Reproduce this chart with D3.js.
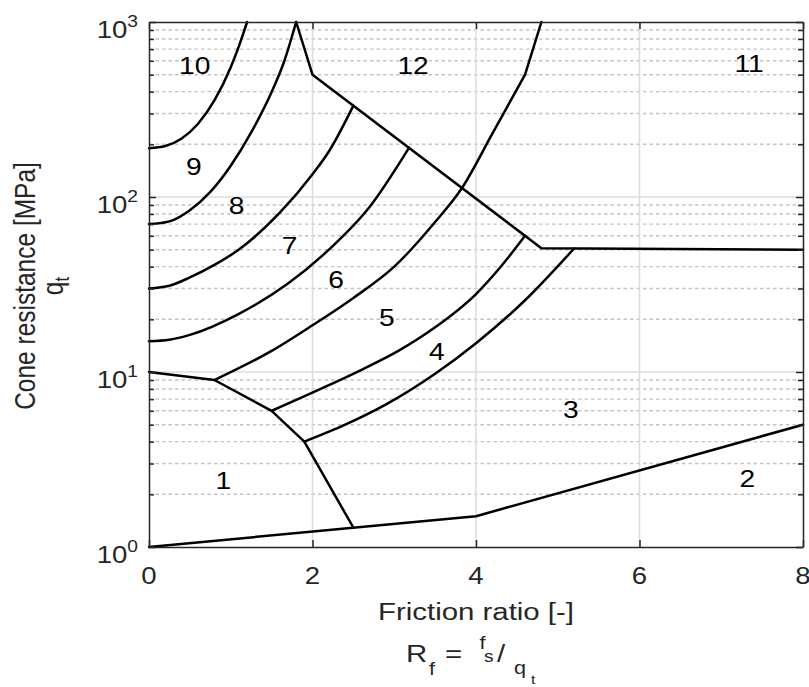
<!DOCTYPE html>
<html>
<head>
<meta charset="utf-8">
<script src="https://cdn.jsdelivr.net/npm/d3@7"></script>
<style>
  body { margin: 0; background: #fff; }
  svg { display: block; }
  text { font-family: "Liberation Sans", Arial, Helvetica, sans-serif; }
</style>
</head>
<body>
<svg id="chart" width="809" height="687"></svg>
<script>
// ---- Axis ticks ----
const rfTicks = [0, 2, 4, 6, 8];
const qtTicks = [1, 10, 100, 1000];
const qtTickExponents = ["0", "1", "2", "3"];

// ---- Zone boundaries, points given as [Rf (%), qt (MPa)] ----
const zone2Boundary = [[0, 1], [4, 1.5], [8, 5]];
const zone1Boundary = [[0, 10], [0.8, 9], [1.5, 6], [1.9, 4], [2.5, 1.29]];
const upperBoundary = [[1.8, 1000], [2, 500], [4.8, 51], [8, 50]];
const boundary11to12Top = [[4.6, 500], [4.8, 1000]];

const curve10to9 = [[0, 190], [0.2, 195.7], [0.4, 216], [0.6, 262], [0.8, 356], [1.0, 552], [1.1, 728], [1.2, 1000]];
const curve9to8 = [[0, 70], [0.25, 72.6], [0.5, 84.1], [0.75, 107], [1.0, 151], [1.25, 234], [1.5, 398], [1.65, 589], [1.8, 1000]];
const curve8to7 = [[0, 30], [0.25, 31.1], [0.5, 34.7], [0.8, 40.9], [1.1, 50.1], [1.6, 81.3], [2.0, 134.9], [2.2, 182], [2.5, 333]];
const curve7to6 = [[0, 15], [0.25, 15.3], [0.5, 16.3], [1.1, 21.5], [1.7, 32], [2.2, 50], [2.7, 88], [3.18, 191]];
const curve6to5 = [[0.8, 9], [1.5, 13.2], [2.0, 18.5], [2.5, 26.5], [3.0, 40], [3.5, 72], [3.82, 111], [4.2, 230], [4.6, 500]];
const curve5to4 = [[1.5, 6], [2.2, 8.41], [2.6, 10.3], [3.05, 13.2], [3.5, 18.0], [4.0, 27.9], [4.3, 39.8], [4.6, 60]];
const curve4to3 = [[1.9, 4], [2.4, 5.0], [2.9, 6.53], [3.5, 9.77], [4.0, 14.6], [4.6, 25.7], [5.2, 50.8]];

// ---- Zone numbers ----
const zoneLabels = ["1", "2", "3", "4", "5", "6", "7", "8", "9", "10", "11", "12"];
const zoneLabelRf = [0.91, 7.32, 5.16, 3.52, 2.91, 2.29, 1.72, 1.07, 0.55, 0.56, 7.34, 3.23];
const zoneLabelQt = [2.41, 2.45, 6.07, 13.1, 20.5, 33.6, 53, 89, 149, 561, 577, 565];

// ---- Layout ----
const plot = { left: 149, right: 803, top: 22, bottom: 547 };
const axisColor = "#262626";
const sx = 1.2;              // horizontal glyph stretch
const tickFont = 23;
const labelFont = 24.5;

const svg = d3.select("#chart");

const x = d3.scaleLinear().domain([0, 8]).range([plot.left, plot.right]);
const y = d3.scaleLog().domain([1, 1000]).range([plot.bottom, plot.top]);

// minor decade values 2..9 for each decade
const minorQt = [];
[1, 10, 100].forEach(d => { for (let m = 2; m <= 9; m++) minorQt.push(d * m); });

// ---- Grid ----
const grid = svg.append("g");
grid.selectAll(".minor").data(minorQt).join("line")
  .attr("x1", plot.left).attr("x2", plot.right)
  .attr("y1", d => y(d)).attr("y2", d => y(d))
  .attr("stroke", "#c4c4c4").attr("stroke-width", 1.4)
  .attr("stroke-dasharray", "3.5,3");
grid.selectAll(".majx").data(rfTicks.slice(1, -1)).join("line")
  .attr("x1", d => x(d)).attr("x2", d => x(d))
  .attr("y1", plot.top).attr("y2", plot.bottom)
  .attr("stroke", "#dcdcdc").attr("stroke-width", 1.5);
grid.selectAll(".majy").data(qtTicks.slice(1, -1)).join("line")
  .attr("x1", plot.left).attr("x2", plot.right)
  .attr("y1", d => y(d)).attr("y2", d => y(d))
  .attr("stroke", "#dcdcdc").attr("stroke-width", 1.5);

// ---- Zone boundaries ----
const lineStraight = d3.line().x(d => x(d[0])).y(d => y(d[1]));
const lineSmooth = d3.line().x(d => x(d[0])).y(d => y(d[1])).curve(d3.curveMonotoneX);

const straightSets = [zone2Boundary, zone1Boundary, upperBoundary, boundary11to12Top];
const curvedSets = [curve10to9, curve9to8, curve8to7, curve7to6, curve6to5, curve5to4, curve4to3];

const lines = svg.append("g").attr("fill", "none").attr("stroke", "#000")
  .attr("stroke-width", 2.5).attr("stroke-linejoin", "round").attr("stroke-linecap", "round");
lines.selectAll(".s").data(straightSets).join("path").attr("d", lineStraight);
lines.selectAll(".c").data(curvedSets).join("path").attr("d", lineSmooth);

// ---- Axes ----
function styleAxis(g) {
  g.selectAll("path.domain").attr("stroke", axisColor).attr("stroke-width", 1.5);
  g.selectAll(".tick line").attr("stroke", axisColor).attr("stroke-width", 1.5);
  g.selectAll(".tick text").remove();
}
const tickLen = 7, minorLen = 5;

svg.append("g").attr("transform", `translate(0,${plot.bottom})`)
  .call(d3.axisBottom(x).tickValues(rfTicks).tickSize(-tickLen).tickSizeOuter(0))
  .call(styleAxis);
svg.append("g").attr("transform", `translate(0,${plot.top})`)
  .call(d3.axisTop(x).tickValues(rfTicks).tickSize(-tickLen).tickSizeOuter(0))
  .call(styleAxis);
svg.append("g").attr("transform", `translate(${plot.left},0)`)
  .call(d3.axisLeft(y).tickValues(qtTicks).tickSize(-tickLen).tickSizeOuter(0))
  .call(styleAxis);
svg.append("g").attr("transform", `translate(${plot.right},0)`)
  .call(d3.axisRight(y).tickValues(qtTicks).tickSize(-tickLen).tickSizeOuter(0))
  .call(styleAxis);
svg.append("g").attr("transform", `translate(${plot.left},0)`)
  .call(d3.axisLeft(y).tickValues(minorQt).tickSize(-minorLen).tickSizeOuter(0))
  .call(styleAxis).select("path.domain").remove();
svg.append("g").attr("transform", `translate(${plot.right},0)`)
  .call(d3.axisRight(y).tickValues(minorQt).tickSize(-minorLen).tickSizeOuter(0))
  .call(styleAxis).select("path.domain").remove();

// ---- Text helper: horizontally stretched glyphs ----
function stretched(px, py, rotate) {
  return svg.append("g")
    .attr("transform", `translate(${px},${py}) scale(${sx},1)` + (rotate ? ` rotate(${rotate})` : ""));
}

// x tick labels
rfTicks.forEach(v => {
  stretched(x(v), plot.bottom + 36.5).append("text")
    .attr("text-anchor", "middle").attr("font-size", tickFont).attr("fill", axisColor)
    .text(String(v));
});

// y tick labels: 10 with exponent
qtTicks.forEach((v, i) => {
  const t = stretched(plot.left - 11, y(v)).append("text")
    .attr("text-anchor", "end").attr("fill", axisColor);
  t.append("tspan").attr("font-size", tickFont).attr("dy", 15.5).text("10");
  t.append("tspan").attr("font-size", 16).attr("dy", -11).text(qtTickExponents[i]);
});

// x label, first line
stretched((plot.left + plot.right) / 2, 619.5).append("text")
  .attr("text-anchor", "middle").attr("font-size", labelFont).attr("fill", axisColor)
  .text("Friction ratio [-]");

// x label, second line: R_f = f_s / q_t
const fx = stretched(0, 0).append("text").attr("fill", axisColor);
const formula = [
  { s: "R", x: 406, y: 662, f: labelFont },
  { s: "f", x: 429, y: 675, f: 18 },
  { s: "=", x: 445, y: 662, f: labelFont },
  { s: "f", x: 479.5, y: 649, f: 18 },
  { s: "s", x: 484, y: 662, f: 16 },
  { s: "/", x: 497, y: 662, f: labelFont },
  { s: "q", x: 514, y: 674, f: 18 },
  { s: "t", x: 531, y: 684, f: 13 }
];
formula.forEach(p => {
  fx.append("tspan").attr("x", p.x / sx).attr("y", p.y).attr("font-size", p.f).text(p.s);
});

// y label (two lines, rotated)
const yl = stretched(35, (plot.top + plot.bottom) / 2 + 1.5, -90);
yl.append("text").attr("text-anchor", "middle").attr("font-size", labelFont).attr("fill", axisColor)
  .text("Cone resistance [MPa]");
const yl2 = yl.append("text").attr("text-anchor", "middle").attr("fill", axisColor).attr("y", 23);
yl2.append("tspan").attr("font-size", labelFont).text("q");
yl2.append("tspan").attr("font-size", 17).attr("dy", 5).text("t");

// ---- Zone numbers ----
zoneLabels.forEach((lab, i) => {
  stretched(x(zoneLabelRf[i]), y(zoneLabelQt[i])).append("text")
    .attr("text-anchor", "middle").attr("dy", "0.36em")
    .attr("font-size", 23.5).attr("fill", "#000").text(lab);
});
</script>
</body>
</html>
